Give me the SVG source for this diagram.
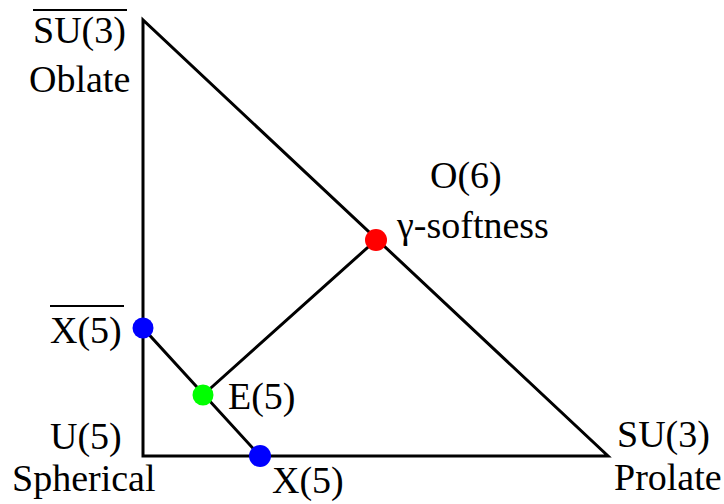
<svg xmlns="http://www.w3.org/2000/svg" width="724" height="504" viewBox="0 0 724 504">
<style>
.t{font-family:"Liberation Serif","Times New Roman",serif;font-size:38px;fill:#000}
.ln{stroke:#000;stroke-width:3;fill:none;stroke-linecap:square}
.ov{stroke:#000;stroke-width:2}
</style>
<rect width="724" height="504" fill="#fff"/>
<g id="connectors">
<path class="ln" d="M143,20 L143,456 L608,456 Z" stroke-linejoin="miter"/>
<line class="ln" x1="143" y1="328" x2="260" y2="456"/>
<line class="ln" x1="203" y1="395" x2="376" y2="240"/>
</g>
<g id="su3bar">
<text class="t" x="33" y="43">SU(3)</text>
<line class="ov" x1="33" y1="10" x2="127" y2="10"/>
<text class="t" x="29" y="92">Oblate</text>
</g>
<g id="o6">
<circle cx="376" cy="240" r="11" fill="#f00"/>
<text class="t" x="430" y="188">O(6)</text>
<text class="t" x="397" y="238">γ-softness</text>
</g>
<g id="x5bar">
<circle cx="143" cy="328" r="10.5" fill="#00f"/>
<text class="t" x="50" y="343">X(5)</text>
<line class="ov" x1="50" y1="306" x2="124" y2="306"/>
</g>
<g id="e5">
<circle cx="203" cy="395" r="10.5" fill="#0f0"/>
<text class="t" x="228" y="409">E(5)</text>
</g>
<g id="x5">
<circle cx="260" cy="456" r="11" fill="#00f"/>
<text class="t" x="272" y="493">X(5)</text>
</g>
<g id="u5">
<text class="t" x="50" y="449">U(5)</text>
<text class="t" x="12" y="491">Spherical</text>
</g>
<g id="su3">
<text class="t" x="617" y="447">SU(3)</text>
<text class="t" x="614" y="490">Prolate</text>
</g>
</svg>
